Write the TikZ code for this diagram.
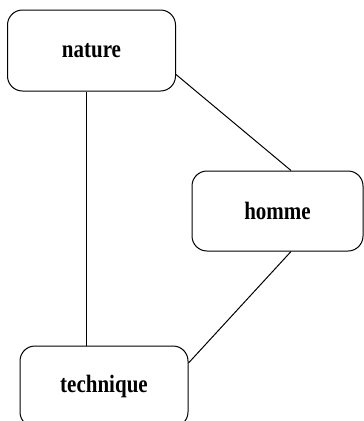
\documentclass[tikz,border=0pt]{standalone}
\usepackage{fontspec}
\setmainfont{Liberation Serif}[FakeStretch=0.84]
\usepackage{tikz}
\usetikzlibrary{calc}
\tikzstyle{boite} = [rectangle, rounded corners=15pt, draw=black, line width=1pt, minimum height=81pt, minimum width=168pt, inner sep=0pt, text centered, font=\fontsize{25}{25}\selectfont\bfseries]
\begin{document}
\begin{tikzpicture}[x=1pt, y=-1pt]

        \useasboundingbox (0,0) rectangle (364,421);

        \node (nature) [boite] at (91.5,50.5) {nature};
        \node (homme) [boite, minimum width=171pt, minimum height=80pt] at (277.5,211) {homme};
        \node (technique) [boite] at (104,386.5) {technique};

        \draw[line width=1pt] ([xshift=-5.5pt]nature.south) -- ([xshift=-18pt]technique.north);
        \draw[line width=1pt] ([yshift=-24pt]nature.east) -- ([xshift=13.5pt]homme.north);
        \draw[line width=1pt] ([xshift=13.5pt]homme.south) -- ([yshift=23.5pt]technique.east);

    \end{tikzpicture}
\end{document}
